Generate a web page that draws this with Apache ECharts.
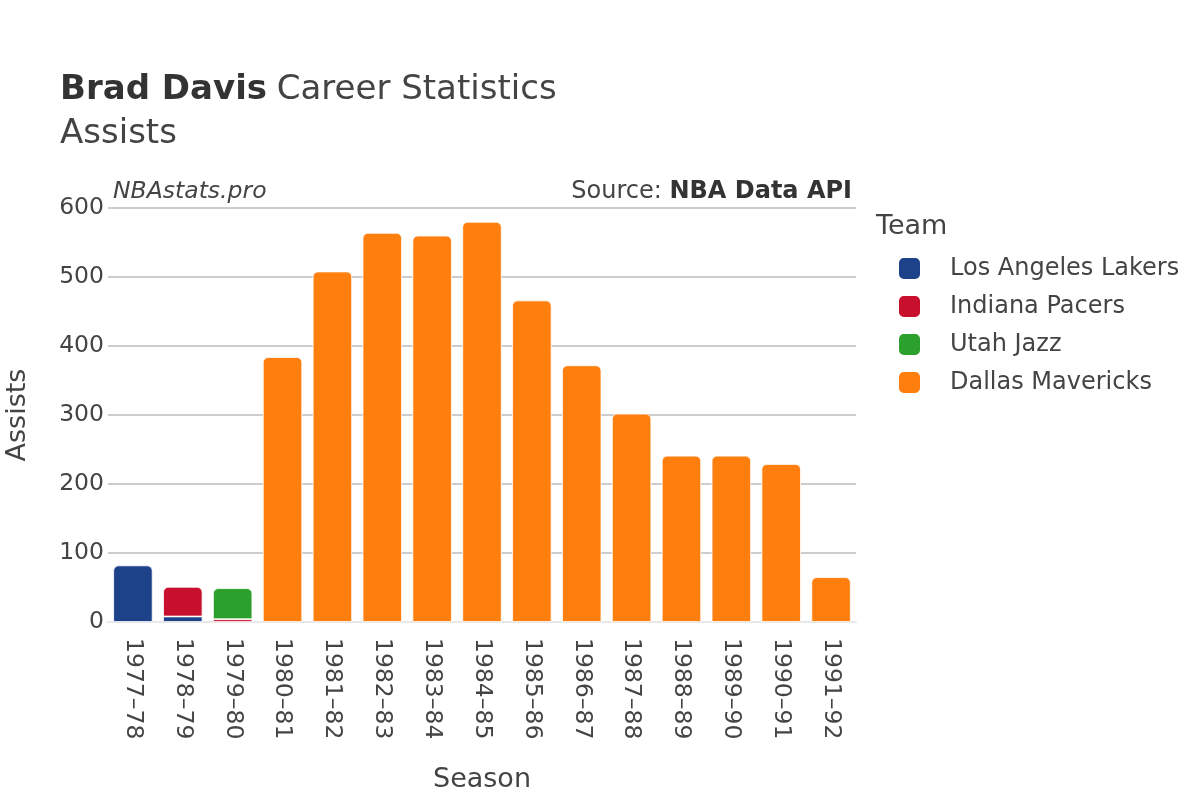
<!DOCTYPE html>
<html>
<head>
<meta charset="utf-8">
<script src="https://cdn.jsdelivr.net/npm/echarts@6/dist/echarts.min.js"></script>
<style>html,body{margin:0;padding:0;background:#fff}#c{width:1200px;height:800px}</style>
</head>
<body>
<div id="c"></div>
<script>
const seasons = ['1977\u201378','1978\u201379','1979\u201380','1980\u201381','1981\u201382','1982\u201383','1983\u201384','1984\u201385','1985\u201386','1986\u201387','1987\u201388','1988\u201389','1989\u201390','1990\u201391','1991\u201392'];
const teams = ['Los Angeles Lakers','Indiana Pacers','Utah Jazz','Dallas Mavericks'];
const lakers = [82, 8, null, null, null, null, null, null, null, null, null, null, null, null, null];
const pacers = [null, 43, 4, null, null, null, null, null, null, null, null, null, null, null, null];
const jazz = [null, null, 45, null, null, null, null, null, null, null, null, null, null, null, null];
const mavericks = [null, null, null, 384, 508, 564, 560, 580, 466, 372, 302, 241, 241, 229, 65];
const yTicks = [0, 100, 200, 300, 400, 500, 600];
const colors = ['#1d428a', '#c8102e', '#2ca02c', '#ff7f0e'];

const allSeries = [lakers, pacers, jazz, mavericks];
const FONT = 'DejaVu Sans';
const TXT = '#444';

function topIndex(i) {
  let t = -1;
  allSeries.forEach((s, k) => { if (s[i] != null && s[i] > 0) t = k; });
  return t;
}

const series = allSeries.map((arr, k) => ({
  name: teams[k],
  type: 'bar',
  stack: 'total',
  barCategoryGap: '21%',
  itemStyle: { color: colors[k], borderColor: '#fff', borderWidth: 0.8 },
  data: arr.map((v, i) => v == null ? null : {
    value: v,
    itemStyle: { borderRadius: topIndex(i) === k ? [5, 5, 0, 0] : 0 }
  })
}));

const chart = echarts.init(document.getElementById('c'), null, { renderer: 'canvas' });
chart.setOption({
  animation: false,
  backgroundColor: '#fff',
  textStyle: { fontFamily: FONT },
  grid: { left: 108, right: 344, top: 208, bottom: 178, containLabel: false, outerBoundsMode: 'none' },
  title: {
    left: 55, top: 63,
    text: '{b|Brad Davis} {g|}{n|Career Statistics}\n{n|Assists}',
    textStyle: {
      fontWeight: 'normal',
      rich: {
        b: { fontFamily: FONT, fontWeight: 'bold', fontSize: 34, color: '#333', lineHeight: 44 },
        g: { width: 4, height: 1 },
        n: { fontFamily: FONT, fontWeight: 'normal', fontSize: 34, color: TXT, lineHeight: 44 }
      }
    }
  },
  legend: {
    orient: 'vertical',
    left: 892, top: 251,
    itemWidth: 23, itemHeight: 23, itemGap: 13,
    icon: 'roundRect',
    data: teams,
    textStyle: { fontFamily: FONT, fontSize: 24, lineHeight: 23, color: TXT, padding: [0, 0, 0, 24] }
  },
  graphic: [
    { type: 'text', left: 876, top: 213, style: { text: 'Team', font: '27px "DejaVu Sans"', fill: TXT } },
    { type: 'text', left: 113, top: 180, style: { text: 'NBAstats.pro', font: 'italic 23.5px "DejaVu Sans"', fill: TXT } },
    { type: 'text', right: 348, top: 180, style: {
      text: '{n|Source: }{b|NBA Data API}',
      rich: {
        n: { font: '24px "DejaVu Sans"', fill: TXT },
        b: { font: 'bold 24px "DejaVu Sans"', fill: '#333' }
      }
    } }
  ],
  xAxis: {
    type: 'category',
    data: seasons,
    name: 'Season',
    nameLocation: 'middle',
    nameGap: 144,
    nameTextStyle: { fontFamily: FONT, fontSize: 27, color: TXT },
    axisLine: { show: true, lineStyle: { color: '#e8e8e8', width: 2 } },
    axisTick: { show: false },
    axisLabel: { rotate: -90, margin: 16, fontFamily: FONT, fontSize: 23.5, color: TXT, interval: 0 }
  },
  yAxis: {
    type: 'value',
    min: 0, max: 600, interval: 100,
    name: 'Assists',
    nameLocation: 'middle',
    nameGap: 77,
    nameTextStyle: { fontFamily: FONT, fontSize: 27, color: TXT },
    axisLine: { show: false },
    axisTick: { show: false },
    axisLabel: { margin: 4, fontFamily: FONT, fontSize: 23.5, color: TXT,
      formatter: v => yTicks.includes(v) ? String(v) : '' },
    splitLine: { lineStyle: { color: '#bdbdbd', width: 1.5 } }
  },
  series: series
});
</script>
</body>
</html>
